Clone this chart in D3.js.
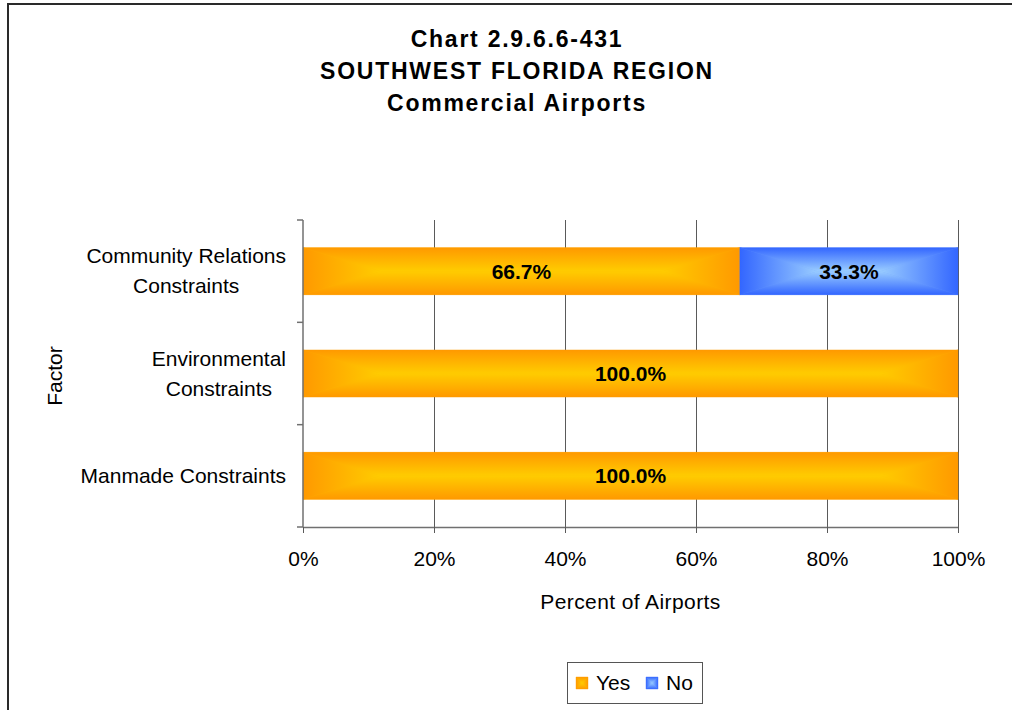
<!DOCTYPE html>
<html>
<head>
<meta charset="utf-8">
<script src="https://cdn.jsdelivr.net/npm/d3@7"></script>
<style>
  html, body { margin: 0; padding: 0; background: #fff; }
  svg { display: block; }
  text { font-family: "Liberation Sans", Arial, sans-serif; fill: #000; }
</style>
</head>
<body>
<svg id="chart" width="1012" height="710"></svg>
<script>
// ---- data ----
const titleLines = ["Chart 2.9.6.6-431", "SOUTHWEST FLORIDA REGION", "Commercial Airports"];
const categories = ["Community Relations Constraints", "Environmental Constraints", "Manmade Constraints"];
const categoryLines = [["Community Relations", "Constraints"], ["Environmental", "Constraints"], ["Manmade Constraints"]];
const seriesNames = ["Yes", "No"];
const yesValues = [66.7, 100.0, 100.0];
const noValues = [33.3, 0.0, 0.0];
const xTicks = [0, 20, 40, 60, 80, 100];
const xTickLabels = ["0%", "20%", "40%", "60%", "80%", "100%"];
const xAxisTitle = "Percent of Airports";
const yAxisTitle = "Factor";

// ---- styling ----
const palette = {
  Yes: { edge: "#FF9900", center: "#FFCC00" },
  No:  { edge: "#3366FF", center: "#99CCFF" }
};

const svg = d3.select("#chart");
const defs = svg.append("defs");

// outer frame of the chart sheet
svg.append("rect")
  .attr("x", 8).attr("y", 4).attr("width", 1100).attr("height", 800)
  .attr("fill", "none").attr("stroke", "#2a2a2a").attr("stroke-width", 2);

// title
svg.append("g").selectAll("text").data(titleLines).join("text")
  .attr("x", 517).attr("y", (d, i) => 47 + i * 32)
  .attr("text-anchor", "middle")
  .style("font-size", "23px").style("font-weight", "bold").style("letter-spacing", "1.75px")
  .text(d => d);

// scales
const plot = { left: 303, right: 958, top: 220, bottom: 527 };
const x = d3.scaleLinear().domain([0, 100]).range([plot.left, plot.right]);
const y = d3.scaleBand().domain(categories).range([plot.top, plot.bottom])
  .paddingInner(0.54).paddingOuter(0.27);

// gradients: four directional ramps per series, edge colour -> centre colour
seriesNames.forEach(name => {
  const c = palette[name];
  const dirs = {
    hIn:  { x1: 0, y1: 0, x2: 1, y2: 0, a: c.edge, b: c.center },
    hOut: { x1: 0, y1: 0, x2: 1, y2: 0, a: c.center, b: c.edge },
    vIn:  { x1: 0, y1: 0, x2: 0, y2: 1, a: c.edge, b: c.center },
    vOut: { x1: 0, y1: 0, x2: 0, y2: 1, a: c.center, b: c.edge }
  };
  Object.entries(dirs).forEach(([k, g]) => {
    const lg = defs.append("linearGradient").attr("id", `g-${name}-${k}`)
      .attr("x1", g.x1).attr("y1", g.y1).attr("x2", g.x2).attr("y2", g.y2);
    lg.append("stop").attr("offset", 0).attr("stop-color", g.a);
    lg.append("stop").attr("offset", 1).attr("stop-color", g.b);
  });
});

// rectangle shaded light in the middle, darker towards every edge
function shadedRect(g, name, x0, y0, x1, y1, reach) {
  const cy = (y0 + y1) / 2;
  const hw = (x1 - x0) / 2, hh = (y1 - y0) / 2;
  const d = Math.min(hw, reach * hh);
  const c = palette[name];
  g.append("rect").attr("x", x0).attr("y", y0).attr("width", x1 - x0).attr("height", y1 - y0)
    .attr("fill", d3.interpolateRgb(c.edge, c.center)(0.5));
  const polys = [
    { pts: [[x0, y0], [x0 + d, cy], [x0, y1]], fill: "hIn" },
    { pts: [[x1, y0], [x1 - d, cy], [x1, y1]], fill: "hOut" },
    { pts: [[x0, y0], [x1, y0], [x1 - d, cy], [x0 + d, cy]], fill: "vIn" },
    { pts: [[x0, y1], [x1, y1], [x1 - d, cy], [x0 + d, cy]], fill: "vOut" }
  ];
  polys.forEach(p => {
    g.append("path")
      .attr("d", "M" + p.pts.map(q => q.join(",")).join("L") + "Z")
      .attr("fill", `url(#g-${name}-${p.fill})`)
      .attr("stroke", `url(#g-${name}-${p.fill})`).attr("stroke-width", 0.4);
  });
}

// vertical gridlines
const grid = svg.append("g");
grid.selectAll("line").data(xTicks.filter(t => t > 0)).join("line")
  .attr("x1", d => x(d)).attr("x2", d => x(d))
  .attr("y1", plot.top).attr("y2", plot.bottom)
  .attr("stroke", "#5a5a5a").attr("stroke-width", 1).attr("shape-rendering", "crispEdges");

// stacked bars
const rows = categories.map((c, i) => ({ cat: c, Yes: yesValues[i], No: noValues[i] }));
const stack = d3.stack().keys(seriesNames)(rows);
const barG = svg.append("g");
stack.forEach(layer => {
  const name = layer.key;
  layer.forEach(seg => {
    if (seg[1] - seg[0] <= 0) return;
    const cat = seg.data.cat;
    const g = barG.append("g");
    shadedRect(g, name, x(seg[0]), y(cat), x(seg[1]), y(cat) + y.bandwidth(), 3.3);
  });
});

// value labels
const labelG = svg.append("g");
stack.forEach(layer => {
  layer.forEach(seg => {
    const v = seg[1] - seg[0];
    if (v <= 0) return;
    labelG.append("text")
      .attr("x", (x(seg[0]) + x(seg[1])) / 2)
      .attr("y", y(seg.data.cat) + y.bandwidth() / 2 + 7.5)
      .attr("text-anchor", "middle")
      .style("font-size", "21px").style("font-weight", "bold")
      .text(d3.format(".1f")(v) + "%");
  });
});

// x axis
const xAxis = d3.axisBottom(x).tickValues(xTicks).tickSize(6).tickSizeOuter(0)
  .tickFormat((d, i) => xTickLabels[i]);
const xg = svg.append("g").attr("transform", `translate(0,${plot.bottom})`).call(xAxis);
xg.select(".domain").attr("stroke", "#707070").attr("stroke-width", 1.5);
xg.selectAll(".tick line").attr("stroke", "#5a5a5a");
xg.selectAll(".tick text").attr("y", 24).attr("dy", 15)
  .style("font-size", "21px").style("font-family", "'Liberation Sans', Arial, sans-serif")
  .attr("fill", "#000");
svg.append("text").attr("x", (plot.left + plot.right) / 2).attr("y", 609)
  .attr("text-anchor", "middle").style("font-size", "21px").style("letter-spacing", "0.4px")
  .text(xAxisTitle);

// y axis: line plus ticks at category boundaries
const yg = svg.append("g");
yg.append("line").attr("x1", plot.left).attr("x2", plot.left)
  .attr("y1", plot.top).attr("y2", plot.bottom)
  .attr("stroke", "#707070").attr("stroke-width", 1.5);
const boundaries = categories.map(c => y(c) - y.step() * y.paddingInner() / 2)
  .concat([plot.bottom]);
yg.selectAll("line.tk").data(boundaries).join("line").attr("class", "tk")
  .attr("x1", plot.left - 6).attr("x2", plot.left)
  .attr("y1", d => d).attr("y2", d => d)
  .attr("stroke", "#707070").attr("stroke-width", 1.5);

// category labels: lines centred on each other, block right-aligned
const catG = svg.append("g");
categories.forEach((c, i) => {
  const lines = categoryLines[i];
  const cy = y(c) + y.bandwidth() / 2;
  const texts = lines.map((ln, j) => catG.append("text")
    .attr("y", cy + 7 + (j - (lines.length - 1) / 2) * 30)
    .attr("text-anchor", "middle")
    .style("font-size", "21px")
    .text(ln));
  const w = d3.max(texts, t => t.node().getComputedTextLength());
  texts.forEach(t => t.attr("x", 286 - w / 2));
});

svg.append("text").attr("transform", "translate(62,376) rotate(-90)")
  .attr("text-anchor", "middle").style("font-size", "21px").text(yAxisTitle);

// legend
const lg = svg.append("g");
lg.append("rect").attr("x", 567.5).attr("y", 662.5).attr("width", 135).attr("height", 41)
  .attr("fill", "#fff").attr("stroke", "#555").attr("stroke-width", 1);
const legendPos = [{ sx: 576, tx: 596 }, { sx: 646, tx: 666 }];
seriesNames.forEach((name, i) => {
  const p = legendPos[i];
  shadedRect(lg.append("g"), name, p.sx, 677, p.sx + 12, 689, 1);
  lg.append("text").attr("x", p.tx).attr("y", 690)
    .style("font-size", "21px").text(name);
});
</script>
</body>
</html>
